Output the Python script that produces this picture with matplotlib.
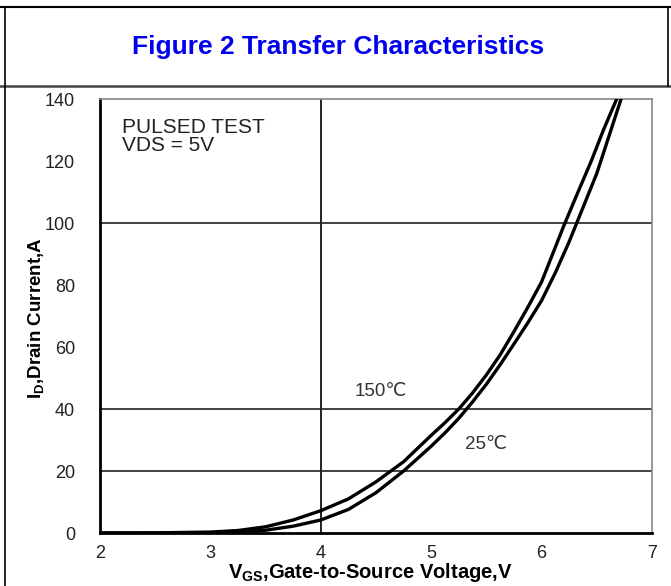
import matplotlib
matplotlib.use("Agg")
import matplotlib.pyplot as plt
from matplotlib.lines import Line2D

plt.rcParams['font.family'] = ['Liberation Sans', 'DejaVu Sans']

# Datos (VGS [V], ID [A])
vgs_150 = [2.0, 2.5, 3.0, 3.25, 3.5, 3.75, 4.0, 4.25, 4.5, 4.75, 5.0, 5.125, 5.25, 5.375,
           5.5, 5.625, 5.75, 5.875, 6.0, 6.1, 6.2, 6.33, 6.45, 6.56, 6.68]
id_150 = [0.0, 0.05, 0.3, 0.8, 2.0, 4.2, 7.2, 11.0, 16.5, 23.0, 31.5, 35.6, 40.0, 45.2,
          51.0, 57.5, 65.0, 72.8, 81.0, 90.0, 99.0, 110.0, 120.0, 130.0, 140.0]

vgs_25 = [2.0, 2.5, 3.0, 3.25, 3.5, 3.75, 4.0, 4.25, 4.5, 4.75, 5.0, 5.125, 5.25, 5.375,
          5.5, 5.625, 5.75, 5.875, 6.0, 6.125, 6.25, 6.375, 6.5, 6.61, 6.72]
id_25 = [0.0, 0.02, 0.1, 0.35, 0.9, 2.2, 4.2, 7.6, 13.0, 20.0, 28.0, 32.3, 37.0, 42.3,
         48.0, 54.3, 61.0, 67.8, 75.0, 84.0, 94.0, 105.0, 116.0, 128.0, 140.0]

x_ticks = [2, 3, 4, 5, 6, 7]
y_ticks = [0, 20, 40, 60, 80, 100, 120, 140]
grid_x = [4]
grid_y = [20, 40, 100]

fig = plt.figure(figsize=(6.71, 5.86), dpi=100)
W, H = 671, 586

# Marco tipo tabla
def fx(px):
    return px / W

def fy(py):
    return 1 - py / H

fig.add_artist(Line2D([0, 1], [fy(7), fy(7)], color='black', lw=1.5))
fig.add_artist(Line2D([0, 1], [fy(86), fy(86)], color='#444444', lw=1.8))
fig.add_artist(Line2D([fx(4.5), fx(4.5)], [fy(7), 0], color='black', lw=1.2))
fig.add_artist(Line2D([fx(668), fx(668)], [fy(7), fy(86)], color='black', lw=1.2))

fig.text(fx(338), fy(47), 'Figure 2 Transfer Characteristics', color='#0000ee',
         fontsize=19, fontweight='bold', ha='center', va='center')

ax = fig.add_axes([fx(100), fy(533), (652 - 100) / W, (533 - 99) / H])

for g in grid_x:
    ax.axvline(g, color='#111111', lw=1.3, zorder=1)
for g in grid_y:
    ax.axhline(g, color='#222222', lw=1.2, zorder=1)

ax.plot(vgs_150, id_150, '-', color='black', lw=2.4, zorder=3, solid_joinstyle='round')
ax.plot(vgs_25, id_25, '-', color='black', lw=2.4, zorder=3, solid_joinstyle='round')

ax.set_xlim(2, 7)
ax.set_ylim(0, 140)
ax.set_xticks(x_ticks)
ax.set_yticks(y_ticks)
ax.tick_params(axis='both', length=0, labelsize=13, labelcolor='#222222')
ax.tick_params(axis='y', pad=18)
ax.tick_params(axis='x', pad=9)

for s in ['left', 'bottom']:
    ax.spines[s].set_color('black')
    ax.spines[s].set_linewidth(2.0)
for s in ['top', 'right']:
    ax.spines[s].set_color('#888888')
    ax.spines[s].set_linewidth(1.2)

ax.text(2.2, 127.8, 'PULSED TEST\nVDS = 5V', fontsize=15, color='#222222',
        ha='left', va='center', linespacing=0.92)
ax.text(4.31, 45.8, '150℃', fontsize=13.5, color='#333333', ha='left', va='center')
ax.text(5.31, 28.4, '25℃', fontsize=13.5, color='#333333', ha='left', va='center')

ax.set_xlabel(r'V$_{\mathregular{GS}}$,Gate-to-Source Voltage,V', fontsize=14.5,
              fontweight='bold')
ax.xaxis.label.set_va('center')
ax.xaxis.set_label_coords((370 - 100) / 552, (533 - 573) / 434)
ax.set_ylabel(r'I$_{\mathregular{D}}$,Drain Current,A', fontsize=13.5,
              fontweight='bold')
ax.yaxis.label.set_va('center')
ax.yaxis.set_label_coords((37 - 100) / 552, (533 - 318) / 434)

fig.savefig('out.png', dpi=100)
